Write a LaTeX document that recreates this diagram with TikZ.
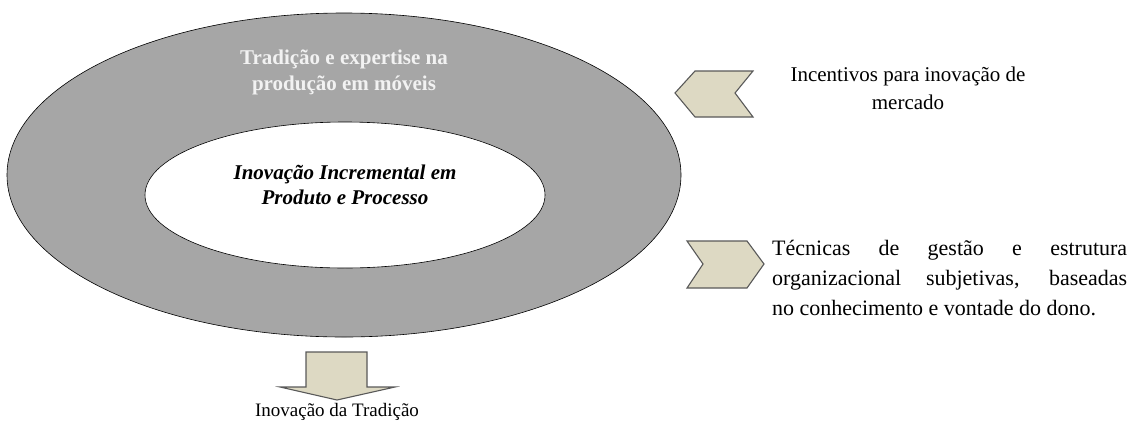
\documentclass[tikz,border=0pt]{standalone}
\usepackage{fontspec}
\setmainfont{Liberation Serif}
\usepackage{tikz}
\usetikzlibrary{shapes.geometric}

\definecolor{ringgray}{HTML}{A6A6A6}
\definecolor{tanfill}{HTML}{DDD9C3}
\definecolor{tanline}{HTML}{595959}

\begin{document}
\begin{tikzpicture}[x=1pt,y=-1pt,
    chevron/.style={fill=tanfill,draw=tanline,line width=1.1pt,line join=miter},
    ringtext/.style={text=white!95!black,font=\fontsize{21}{26}\selectfont\bfseries,align=center},
    coretext/.style={font=\fontsize{21}{25}\selectfont\bfseries\itshape,align=center},
    sidetext/.style={font=\fontsize{21}{28}\selectfont,align=center}]
  \useasboundingbox (0,0) rectangle (1131,426);
  \node[ellipse,draw=black,fill=ringgray,line width=0.6pt,minimum width=674pt,minimum height=324pt,inner sep=0pt] (ring) at (344,175) {};
  \node[ellipse,draw=black,fill=white,line width=0.6pt,minimum width=400pt,minimum height=146pt,inner sep=0pt] (core) at (345,195) {};
  \node[ringtext] (tradicao) at (344,72) {Tradição e expertise na\\produção em móveis};
  \node[coretext] (incremental) at (345,185) {Inovação Incremental em\\Produto e Processo};
  \draw[chevron] (675,93) -- (695,71) -- (753,71) -- (735,93) -- (753,117) -- (695,117) -- cycle;
  \draw[chevron] (687,241) -- (747,241) -- (764,264) -- (747,288) -- (687,288) -- (703,264) -- cycle;
  \draw[chevron] (306,352) -- (367,352) -- (367,387) -- (395,387) -- (337,400) -- (280,387) -- (306,387) -- cycle;
  \node[sidetext] (incentivos) at (908,88) {Incentivos para inovação de\\mercado};
  \node[font=\fontsize{22}{30}\selectfont,align=left,anchor=north west,inner sep=0pt] (tecnicas) at (772,240)
    {\makebox[355pt][s]{Técnicas de gestão e estrutura}\\
     \makebox[355pt][s]{organizacional subjetivas, baseadas}\\
     no conhecimento e vontade do dono.};
  \node[font=\fontsize{19}{24}\selectfont] (tradicaoinov) at (337,412) {Inovação da Tradição};
\end{tikzpicture}
\end{document}
